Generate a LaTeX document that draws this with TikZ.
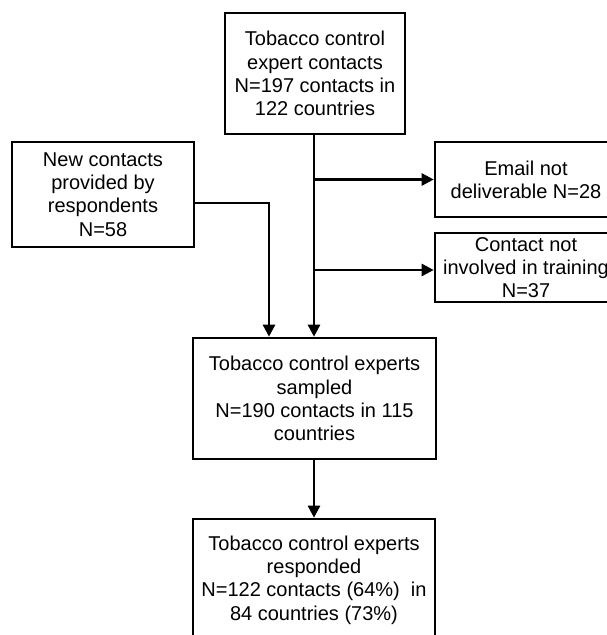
\documentclass[tikz,border=0pt]{standalone}
\usepackage{fontspec}
\setmainfont{Liberation Sans}
\usetikzlibrary{positioning, arrows.meta}

\begin{document}
\begin{tikzpicture}[x=1pt,y=-1pt]
        \tikzset{box/.style = {draw, line width=2.6pt, align=center, inner sep=0pt,
                font=\fontsize{20}{23.3}\selectfont}}
        \tikzset{arr/.style = {line width=2.6pt, -{Triangle[length=12pt,width=12pt]}}}

        \clip (0,0) rectangle (607,635);

        \node[box, minimum width=180, minimum height=121] (contacts) at (315,73.5)
            {Tobacco control\\expert contacts\\N=197 contacts in\\122 countries};
        \node[box, minimum width=182, minimum height=105] (newc) at (103,194.5)
            {New contacts\\provided by\\respondents\\N=58};
        \node[box, minimum width=182, minimum height=75] (email) at (526,179.5)
            {Email not\\deliverable N=28};
        \node[box, minimum width=182, minimum height=69] (training) at (526,267.5)
            {Contact not\\involved in training\\N=37};
        \node[box, minimum width=243, minimum height=121] (sampled) at (314.5,398.5)
            {Tobacco control experts\\sampled\\N=190 contacts in 115\\countries};
        \node[box, minimum width=242, minimum height=122] (responded) at (314,580)
            {Tobacco control experts\\responded\\N=122 contacts (64\%)\ \ in\\84 countries (73\%)};

        \coordinate (b1) at (314,179.5);
        \coordinate (b2) at (314,270);
        \coordinate (j) at (269,203);

        \draw[arr] (contacts.south -| b1) -- (sampled.north -| b1);
        \draw[arr] (b1) -- (b1 -| email.west);
        \draw[arr] (b2) -- (b2 -| training.west);
        \draw[arr] (newc.east |- j) -- (j) -- (j |- sampled.north);
        \draw[arr] (sampled.south -| b1) -- (responded.north -| b1);

\end{tikzpicture}
\end{document}
